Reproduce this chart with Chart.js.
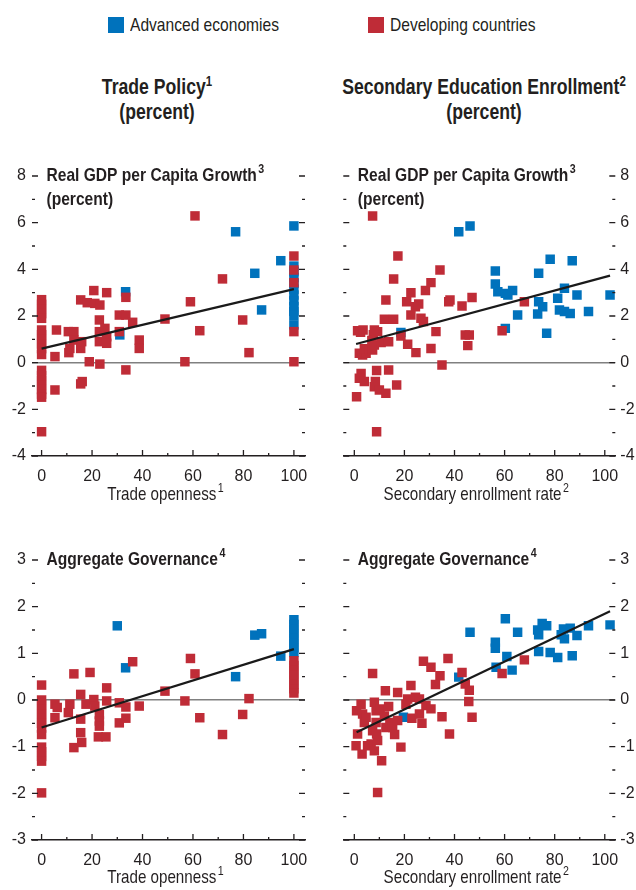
<!DOCTYPE html>
<html>
<head>
<meta charset="utf-8">
<script src="https://cdn.jsdelivr.net/npm/chart.js@4.4.1/dist/chart.umd.min.js"></script>
<style>
  body { margin: 0; background: #fff; width: 636px; height: 890px; position: relative; overflow: hidden;
         font-family: "Liberation Sans", Arial, sans-serif; color: #231f20; }
  .key { position: absolute; width: 16px; height: 16px; }
  .lab { position: absolute; font-size: 19px; line-height: 24px; white-space: nowrap;
         transform: scaleX(0.82); transform-origin: left center; }
  .coltitle { position: absolute; text-align: center; font-weight: bold; font-size: 21.5px; line-height: 25px;
              white-space: nowrap; transform: scaleX(0.82); transform-origin: center center; }
  .coltitle sup { font-size: 14px; vertical-align: 8px; line-height: 0; }
  canvas { position: absolute; }
</style>
</head>
<body>
<div class="key" style="left:108px;top:17px;background:#0072bc"></div>
<div class="lab" style="left:130px;top:13px">Advanced economies</div>
<div class="key" style="left:368px;top:17px;background:#bf2c37"></div>
<div class="lab" style="left:390px;top:13px">Developing countries</div>

<div class="coltitle" style="left:57px;width:200px;top:75px">Trade Policy<sup>1</sup><br>(percent)</div>
<div class="coltitle" style="left:284px;width:400px;top:75px">Secondary Education Enrollment<sup>2</sup><br>(percent)</div>

<canvas id="tl" width="318" height="370" style="left:0;top:150px"></canvas>
<canvas id="tr" width="318" height="370" style="left:318px;top:150px"></canvas>
<canvas id="bl" width="318" height="360" style="left:0;top:530px"></canvas>
<canvas id="br" width="318" height="360" style="left:318px;top:530px"></canvas>

<script>
// Colores y fuente
const BLUE = "#0072bc";
const RED = "#bf2c37";
const INK = "#231f20";
const FONT = '"Liberation Sans", Arial, sans-serif';
const ESTRECHO = 0.82; // factor para imitar la letra condensada

const xTicks = [0, 10, 20, 30, 40, 50, 60, 70, 80, 90, 100];

// Panel 1: apertura comercial vs crecimiento del PIB per cápita
const tradeGrowthDev = [
  [0, 2.7], [0, 2.5], [0, 2.3], [0, 2.1], [0, 1.9], [0, 1.4], [0, 1.2], [0, 1.0], [0, 0.8], [0, 0.6], [0, 0.35],
  [0, -0.33], [0, -0.55], [0, -0.75], [0, -0.95], [0, -1.15], [0, -1.35], [0, -1.48], [0, -2.96],
  [5.3, 0.26], [5.3, -1.17], [5.9, 1.4], [10.6, 1.33], [10.8, 0.43], [11.2, 0.61], [12.8, 1.33], [12.8, 0.97],
  [15.5, 2.69], [15.5, 0.61], [15.9, 0.9], [15.5, -0.91], [16.1, -0.81], [18.1, 2.57], [18.9, 0.04],
  [20.7, 3.09], [21.1, 2.54], [23.1, 2.47], [22.9, 1.83], [22.9, 1.33], [22.9, 0.9], [23.1, -0.06],
  [25.1, 1.47], [25.8, 1.11], [25.8, 0.83], [25.8, 3.0], [30.8, 2.04], [30.8, 1.33], [33.4, 2.04], [33.4, 2.8],
  [33.4, -0.31], [36.1, 1.73], [38.7, 0.97], [38.7, 0.61], [48.9, 1.87], [56.8, 0.04], [59.0, 2.61], [60.8, 6.29],
  [62.7, 1.37], [71.7, 3.59], [79.7, 1.83], [82.2, 0.43], [100, 4.57], [100, 3.97], [100, 3.43], [100, 1.33], [100, 0.04]
];
const tradeGrowthAdv = [
  [33.3, 3.04], [31, 1.19], [76.9, 5.61], [84.5, 3.83], [87.2, 2.26], [94.8, 4.37], [100, 5.86],
  [100, 4.14], [100, 3.9], [100, 3.65], [100, 3.4], [100, 3.15], [100, 2.9], [100, 2.65], [100, 2.4],
  [100, 2.2], [100, 2.02], [100, 1.62]
];
const tradeGrowthFit = [[0, 0.6], [100, 3.15]];

// Panel 2: matrícula secundaria vs crecimiento
const eduGrowthDev = [
  [0.9, -1.46], [1.3, 1.37], [2.5, 1.3], [3.5, 1.4], [2, 0.4], [3.3, 0.33], [4.7, 0.4], [4, 0.6], [6, 0.6],
  [7.3, 0.54], [2.7, -0.46], [2, -0.67], [4, -0.81], [7.3, 6.29], [8, 1.4], [9.3, 1.33], [7.6, 1.2], [7, 0.95],
  [8, 0.76], [8.9, -0.34], [8.4, -0.81], [8, -1.03], [10, -1.17], [8.9, -2.96], [10.7, 0.86], [12.6, -1.31],
  [12.6, 2.69], [12, 1.86], [13.7, 0.9], [13.7, -0.31], [15.7, 3.59], [15.7, 1.86], [17.4, 4.57], [16.9, -0.96],
  [18.6, 1.14], [20.9, 2.61], [21.3, 0.79], [22.6, 3.0], [22.6, 2.04], [24.4, 2.4], [24.6, 0.43], [25.7, 2.51],
  [26.6, 1.9], [27.6, 1.76], [28.4, 3.09], [30.6, 3.43], [30.6, 0.61], [32.6, 1.33], [34.2, 3.97], [35, -0.1],
  [37.7, 2.61], [38.2, 2.69], [43, 2.43], [44.3, 1.19], [45.9, 1.19], [45.3, 0.73], [47, 2.79], [59, 1.37], [67.9, 2.61]
];
const eduGrowthAdv = [
  [18.6, 1.29], [41.7, 5.61], [46.2, 5.86], [56.3, 3.93], [56.3, 3.37], [57.3, 3.04], [60.3, 2.97], [61.3, 2.9],
  [63.2, 3.09], [60.3, 1.47], [65.2, 2.04], [73.6, 3.83], [73.6, 2.61], [75.2, 2.4], [73.2, 2.09], [76.8, 1.26],
  [78.2, 4.43], [81.2, 2.76], [81.9, 2.26], [83.9, 3.19], [83.9, 2.19], [86.2, 2.11], [87, 4.37], [88.9, 2.9],
  [93.5, 2.19], [102.1, 2.9]
];
const eduGrowthFit = [[0.7, 0.8], [102.1, 3.73]];

// Panel 3: apertura comercial vs gobernanza
const tradeGovDev = [
  [0, 0.32], [0, 0], [0, -0.1], [0, -0.2], [0, -0.3], [0, -0.4], [0, -0.5], [0, -0.6], [0, -0.74],
  [0, -1.01], [0, -1.11], [0, -1.21], [0, -1.31], [0, -1.99],
  [5.3, -0.09], [5.3, -0.38], [6.2, -0.16], [10.6, -0.27], [11.2, -0.09], [12.8, 0.56], [12.8, -1.02],
  [15.5, 0.12], [15.5, -0.41], [15.5, -0.7], [15.9, -0.91], [17.6, -0.09], [19.2, 0.59], [20.7, 0.01],
  [21.1, -0.13], [22.9, -0.31], [22.9, -0.45], [22.9, -0.56], [22.5, -0.79], [25.5, -0.79], [25.8, 0.26],
  [25.8, -0.02], [30.8, -0.06], [30.8, -0.49], [33.4, -0.15], [33.4, -0.39], [36.1, 0.82], [38.7, -0.13],
  [48.9, 0.19], [56.8, -0.02], [59, 0.89], [60.8, 0.56], [62.7, -0.38], [71.7, -0.74], [79.7, -0.31], [82.2, 0.03],
  [100, 0.84], [100, 0.74], [100, 0.64], [100, 0.54], [100, 0.44], [100, 0.34], [100, 0.24], [100, 0.15]
];
const tradeGovAdv = [
  [30, 1.59], [33.3, 0.69], [76.9, 0.5], [84.5, 1.39], [87.2, 1.42], [94.8, 0.94],
  [100, 1.72], [100, 1.62], [100, 1.52], [100, 1.42], [100, 1.32], [100, 1.22], [100, 1.12], [100, 1.02]
];
const tradeGovFit = [[0, -0.59], [100, 1.09]];

// Panel 4: matrícula secundaria vs gobernanza
const eduGovDev = [
  [0.9, -0.23], [0.7, -0.98], [1.3, -0.73], [2.7, -0.09], [3.3, -0.3], [3.1, -1.16], [4, -0.48], [4.7, -0.37],
  [5.3, -0.98], [6.7, -0.94], [7.3, 0.57], [7.3, -0.66], [8, -0.05], [8, -1.09], [8.7, -0.23], [8.7, -0.48],
  [8.9, -0.73], [9.3, -0.87], [9.3, -1.98], [10.3, -0.19], [10.9, -1.3], [12, -0.34], [12.4, 0.2], [12.6, -0.59],
  [13.7, -0.14], [14.2, -0.48], [15.3, -0.59], [16.1, -0.74], [17.3, 0.16], [17.3, -0.44], [18.6, -1.01],
  [20.6, -0.09], [21.3, 0.02], [22.6, 0.31], [23, -0.39], [24.4, 0.06], [26, 0.02], [26, -0.3], [27, -0.5],
  [27.6, 0.83], [28.6, -0.12], [30.6, 0.7], [30.6, -0.19], [32.4, 0.33], [34.2, 0.52], [35, -0.36], [37.4, 0.89],
  [38, -0.73], [43, 0.59], [44.3, 0.34], [45.9, 0.21], [45.7, -0.03], [47, -0.37], [59, 0.57], [67.9, 0.86]
];
const eduGovAdv = [
  [19.6, -0.37], [41.7, 0.49], [46.2, 1.45], [56.3, 1.24], [56.3, 1.11], [56.6, 0.7], [60.3, 1.74], [60.9, 0.93],
  [63, 0.64], [65.2, 1.45], [73.2, 1.5], [73.6, 1.04], [73.6, 1.4], [75, 1.64], [76.8, 1.59], [78.2, 1.02],
  [81.2, 0.91], [82.6, 1.4], [83.5, 1.52], [83.9, 1.31], [86.2, 1.54], [87, 0.95], [88.9, 1.38], [93.5, 1.59],
  [102.1, 1.61]
];
const eduGovFit = [[0.9, -0.69], [102.1, 1.9]];

/**
 * Escribe un texto estrecho con superíndice opcional
 */
function textoConSup(ctx, texto, sup, x, y, font, supFont, align) {
  ctx.font = font;
  const w1 = ctx.measureText(texto).width * ESTRECHO;
  ctx.font = supFont;
  const w2 = sup ? ctx.measureText(sup).width * ESTRECHO + 1.5 : 0;
  let x0 = x;
  if (align === "center") x0 = x - (w1 + w2) / 2;
  ctx.textAlign = "left";
  ctx.textBaseline = "middle";

  ctx.save();
  ctx.translate(x0, y);
  ctx.scale(ESTRECHO, 1);
  ctx.font = font;
  ctx.fillText(texto, 0, 0);
  ctx.restore();

  if (sup) {
    ctx.save();
    ctx.translate(x0 + w1 + 1.5, y - 7);
    ctx.scale(ESTRECHO, 1);
    ctx.font = supFont;
    ctx.fillText(sup, 0, 0);
    ctx.restore();
  }
}

// Plugin: marcas de eje hacia dentro, títulos de panel y del eje x
const decorado = {
  id: "decorado",
  afterDraw(chart, args, o) {
    const { ctx, chartArea: a, scales: { x, y } } = chart;
    ctx.save();
    ctx.strokeStyle = INK;
    ctx.lineWidth = 1.3;
    ctx.beginPath();
    y.ticks.forEach(t => {
      const py = y.getPixelForValue(t.value);
      const len = o.yMajor(t.value) ? 6 : 3;
      ctx.moveTo(a.left, py); ctx.lineTo(a.left + len, py);
      ctx.moveTo(a.right - len, py); ctx.lineTo(a.right, py);
    });
    xTicks.forEach(v => {
      const px = x.getPixelForValue(v);
      const len = v % 20 === 0 ? 6 : 3;
      ctx.moveTo(px, a.bottom); ctx.lineTo(px, a.bottom - len);
    });
    ctx.stroke();

    ctx.fillStyle = INK;
    const tx = a.left + 14.5;
    o.title.forEach((linea, i) => {
      textoConSup(ctx, linea, i === 0 ? o.titleSup : "", tx, a.top + i * 24,
        "bold 19px " + FONT, "bold 13px " + FONT, "left");
    });
    textoConSup(ctx, o.xTitle, o.xSup, (a.left + a.right) / 2 - 3, o.xTitleY,
      "18.5px " + FONT, "13px " + FONT, "center");
    ctx.restore();
  }
};

function puntos(arr) {
  return arr.map(p => ({ x: p[0], y: p[1] }));
}

/**
 * Crea un panel de dispersión
 */
function crearPanel(id, cfg) {
  const right = cfg.side === "right";
  new Chart(document.getElementById(id), {
    type: "scatter",
    data: {
      datasets: [
        {
          data: puntos(cfg.fit), showLine: true, pointRadius: 0, borderColor: "#1a1a1a",
          borderWidth: 2.2, order: 0
        },
        {
          data: puntos(cfg.dev), backgroundColor: RED, pointStyle: "rect", pointRadius: 6.7,
          pointBorderWidth: 0, order: 1
        },
        {
          data: puntos(cfg.adv), backgroundColor: BLUE, pointStyle: "rect", pointRadius: 6.7,
          pointBorderWidth: 0, order: 2
        }
      ]
    },
    options: {
      responsive: false,
      animation: false,
      events: [],
      layout: { padding: cfg.padding },
      plugins: {
        legend: { display: false },
        tooltip: { enabled: false },
        decorado: {
          title: cfg.title, titleSup: cfg.titleSup, xTitle: cfg.xTitle, xSup: cfg.xSup,
          xTitleY: cfg.xTitleY, yMajor: cfg.yMajor
        }
      },
      scales: {
        x: {
          type: "linear",
          min: cfg.xMin,
          max: cfg.xMax,
          afterBuildTicks: s => { s.ticks = xTicks.map(v => ({ value: v })); },
          afterFit: s => { s.height = cfg.xHeight; },
          ticks: {
            autoSkip: false, maxRotation: 0, padding: 3, color: INK,
            font: { family: FONT, size: 16 },
            callback: v => (v % 20 === 0 ? String(v) : "")
          },
          grid: { display: false },
          border: { display: true, color: INK, width: 1.5 }
        },
        y: {
          position: cfg.side,
          min: cfg.yMin,
          max: cfg.yMax,
          afterFit: s => { s.width = cfg.yWidth; },
          ticks: {
            stepSize: cfg.yStep, padding: right ? 5 : 6, color: INK,
            font: { family: FONT, size: 16 },
            callback: v => (cfg.yMajor(v) ? String(v) : "")
          },
          grid: {
            drawTicks: false,
            lineWidth: 1.5,
            color: c => (c.tick && c.tick.value === 0 ? "#808080" : "rgba(0,0,0,0)")
          },
          border: { display: false }
        }
      }
    },
    plugins: [decorado]
  });
}

const mayorCrec = v => Math.abs(v % 2) < 1e-9;
const mayorGob = v => Math.abs(v % 1) < 1e-9;

crearPanel("tl", {
  side: "left", padding: { left: 0, right: 13, top: 26, bottom: 0 }, yWidth: 32, xHeight: 64,
  xMin: -3.8, xMax: 104.4, yMin: -4, yMax: 8, yStep: 1, yMajor: mayorCrec,
  dev: tradeGrowthDev, adv: tradeGrowthAdv, fit: tradeGrowthFit,
  title: ["Real GDP per Capita Growth", "(percent)"], titleSup: "3",
  xTitle: "Trade openness", xSup: "1", xTitleY: 345
});

crearPanel("tr", {
  side: "right", padding: { left: 25.3, right: 0, top: 26, bottom: 0 }, yWidth: 20.7, xHeight: 64,
  xMin: -4.4, xMax: 104.2, yMin: -4, yMax: 8, yStep: 1, yMajor: mayorCrec,
  dev: eduGrowthDev, adv: eduGrowthAdv, fit: eduGrowthFit,
  title: ["Real GDP per Capita Growth", "(percent)"], titleSup: "3",
  xTitle: "Secondary enrollment rate", xSup: "2", xTitleY: 345
});

crearPanel("bl", {
  side: "left", padding: { left: 0, right: 13, top: 30, bottom: 0 }, yWidth: 32, xHeight: 50,
  xMin: -3.8, xMax: 104.4, yMin: -3, yMax: 3, yStep: 0.5, yMajor: mayorGob,
  dev: tradeGovDev, adv: tradeGovAdv, fit: tradeGovFit,
  title: ["Aggregate Governance"], titleSup: "4",
  xTitle: "Trade openness", xSup: "1", xTitleY: 348
});

crearPanel("br", {
  side: "right", padding: { left: 25.3, right: 0, top: 30, bottom: 0 }, yWidth: 20.7, xHeight: 50,
  xMin: -4.4, xMax: 104.2, yMin: -3, yMax: 3, yStep: 0.5, yMajor: mayorGob,
  dev: eduGovDev, adv: eduGovAdv, fit: eduGovFit,
  title: ["Aggregate Governance"], titleSup: "4",
  xTitle: "Secondary enrollment rate", xSup: "2", xTitleY: 348
});
</script>
</body>
</html>
